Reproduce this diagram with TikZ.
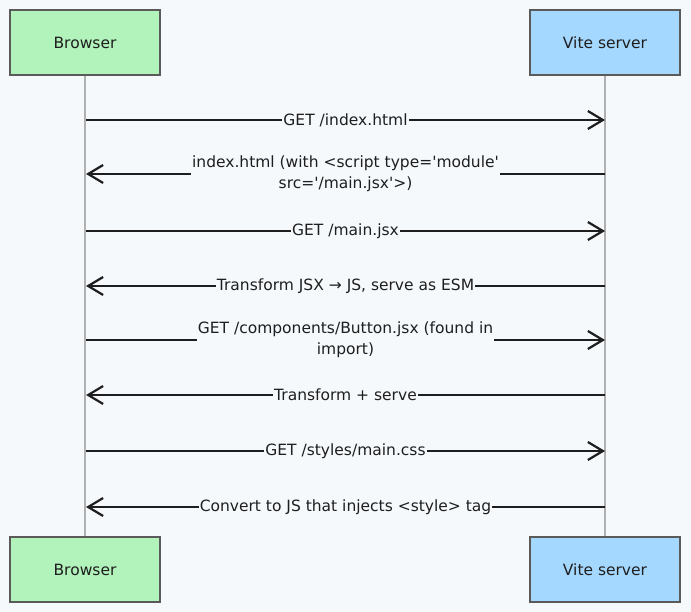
\documentclass[tikz,border=0pt]{standalone}
\usepackage{fontspec}
\setmainfont{DejaVu Sans}
\newfontfamily\hand{DejaVu Sans}
\usetikzlibrary{arrows.meta}
\definecolor{bg}{HTML}{F5F9FC}
\definecolor{greenbox}{HTML}{B2F2BB}
\definecolor{bluebox}{HTML}{A5D8FF}
\definecolor{boxline}{HTML}{5A5A5A}
\definecolor{lifeline}{HTML}{B0B0B0}
\definecolor{ink}{HTML}{1E1E1E}
\begin{document}
\begin{tikzpicture}[x=1pt,y=-1pt,
  actor/.style={draw=boxline,line width=1.8pt,minimum width=150pt,minimum height=65pt,inner sep=0pt,font=\hand\fontsize{15.5}{18}\selectfont,text=ink},
  life/.style={draw=lifeline,line width=1.3pt},
  msg/.style={draw=ink,line width=2.5pt,-{Straight Barb[length=15pt,width=18pt,line width=2.2pt]}},
  lbl/.style={fill=bg,inner sep=1pt,font=\hand\fontsize{15.5}{21}\selectfont,text=ink,align=center}]
\fill[bg] (0,0) rectangle (691,612);
\useasboundingbox (0,0) rectangle (691,612);
\node[actor,fill=greenbox] (bt) at (85,42.5) {Browser};
\node[actor,fill=bluebox] (vt) at (605,42.5) {Vite server};
\node[actor,fill=greenbox] (bb) at (85,569.5) {Browser};
\node[actor,fill=bluebox] (vb) at (605,569.5) {Vite server};
\draw[life] (bt.south) -- (bb.north);
\draw[life] (vt.south) -- (vb.north);
% message endpoints
\foreach \n/\y in {1/120,2/174,3/231,4/286,5/340,6/395,7/451,8/507}{
  \coordinate (b\n) at (86,\y);
  \coordinate (v\n) at (605,\y);
}
\draw[msg] (b1) -- node[lbl] {GET /index.html} (v1);
\draw[msg] (v2) -- node[lbl] {index.html (with <script type='module'\\src='/main.jsx'>)} (b2);
\draw[msg] (b3) -- node[lbl] {GET /main.jsx} (v3);
\draw[msg] (v4) -- node[lbl] {Transform JSX → JS, serve as ESM} (b4);
\draw[msg] (b5) -- node[lbl] {GET /components/Button.jsx (found in\\import)} (v5);
\draw[msg] (v6) -- node[lbl] {Transform + serve} (b6);
\draw[msg] (b7) -- node[lbl] {GET /styles/main.css} (v7);
\draw[msg] (v8) -- node[lbl] {Convert to JS that injects <style> tag} (b8);
\end{tikzpicture}
\end{document}
